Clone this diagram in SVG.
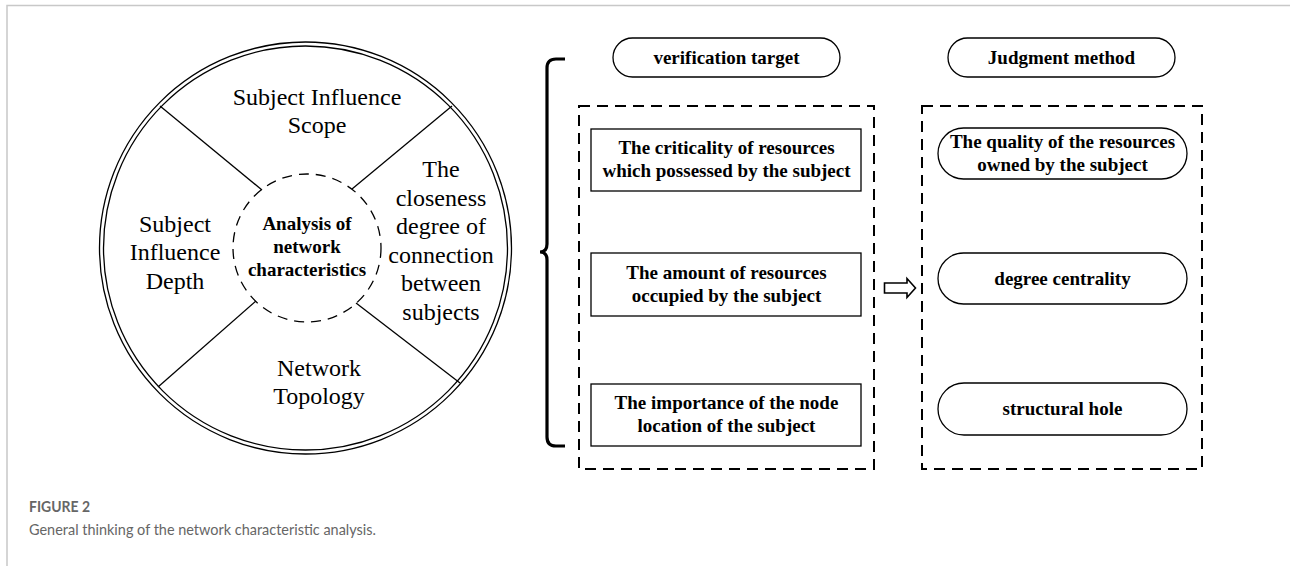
<svg xmlns="http://www.w3.org/2000/svg" width="1290" height="566" viewBox="0 0 1290 566">
<style>
.ser{font-family:"Liberation Serif","Times New Roman",serif;fill:#000;text-anchor:middle}
.reg{font-size:24px}
.bld{font-size:19px;font-weight:bold}
.ln{stroke:#000;stroke-width:1.3;fill:none}
.box{fill:#fff;stroke:#000;stroke-width:1.3}
.dash{fill:none;stroke:#000;stroke-width:2;stroke-dasharray:11 7}
.cap{font-family:Lato,"Open Sans","Liberation Sans",sans-serif;fill:#666}
</style>
<rect width="1290" height="566" fill="#fff"/>
<g id="frame">
<path d="M7 566 V5.5 H1290" fill="none" stroke="#c8c8c8" stroke-width="1.5"/>
</g>
<g id="circle-diagram">
<circle cx="305.5" cy="248" r="206" class="ln" stroke-width="1.6"/>
<circle cx="305.5" cy="248" r="202" class="ln" stroke-width="1.6"/>
<circle cx="307" cy="248" r="74" class="ln" stroke-width="1.6" stroke-dasharray="10 7"/>
</g>
<g id="connectors">
<line x1="160" y1="106" x2="262" y2="190" class="ln"/>
<line x1="452" y1="106" x2="352" y2="189" class="ln"/>
<line x1="158" y1="387" x2="256" y2="301" class="ln"/>
<line x1="460" y1="383" x2="356" y2="303" class="ln"/>
<path d="M565 59 H556 Q547 59 547 68 V244 Q547 252 540 252 Q547 252 547 260 V437 Q547 446 556 446 H565" fill="none" stroke="#000" stroke-width="3.2"/>
<path d="M884.5 283 H907 V278.5 L915.5 288 L907 297.5 V293 H884.5 Z" fill="#fff" stroke="#000" stroke-width="1.6"/>
</g>
<g id="scope">
<text class="ser reg" x="317" y="105">Subject Influence</text>
<text class="ser reg" x="317" y="133">Scope</text>
</g>
<g id="depth">
<text class="ser reg" x="175" y="232">Subject</text>
<text class="ser reg" x="175" y="260">Influence</text>
<text class="ser reg" x="175" y="289">Depth</text>
</g>
<g id="closeness">
<text class="ser reg" x="441" y="177">The</text>
<text class="ser reg" x="441" y="206">closeness</text>
<text class="ser reg" x="441" y="234">degree of</text>
<text class="ser reg" x="441" y="263">connection</text>
<text class="ser reg" x="441" y="291">between</text>
<text class="ser reg" x="441" y="320">subjects</text>
</g>
<g id="topology">
<text class="ser reg" x="319" y="376">Network</text>
<text class="ser reg" x="319" y="404">Topology</text>
</g>
<g id="center">
<text class="ser bld" x="307" y="230">Analysis of</text>
<text class="ser bld" x="307" y="253">network</text>
<text class="ser bld" x="307" y="276">characteristics</text>
</g>
<g id="verification-target">
<rect x="613" y="38" width="227" height="39" rx="19.5" class="box"/>
<text class="ser bld" x="726.5" y="64">verification target</text>
</g>
<g id="judgment-method">
<rect x="948" y="38" width="227" height="39" rx="19.5" class="box"/>
<text class="ser bld" x="1061.5" y="64">Judgment method</text>
</g>
<g id="left-group">
<rect x="579" y="106" width="295" height="363" class="dash"/>
</g>
<g id="right-group">
<rect x="922" y="106" width="280" height="363" class="dash"/>
</g>
<g id="criticality">
<rect x="591" y="129" width="270" height="62" class="box"/>
<text class="ser bld" x="726.5" y="154">The criticality of resources</text>
<text class="ser bld" x="726.5" y="177">which possessed by the subject</text>
</g>
<g id="amount">
<rect x="591" y="253" width="270" height="63" class="box"/>
<text class="ser bld" x="726.5" y="279">The amount of resources</text>
<text class="ser bld" x="726.5" y="302">occupied by the subject</text>
</g>
<g id="importance">
<rect x="591" y="384" width="270" height="62" class="box"/>
<text class="ser bld" x="726.5" y="409">The importance of the node</text>
<text class="ser bld" x="726.5" y="432">location of the subject</text>
</g>
<g id="quality">
<rect x="938" y="128" width="249" height="51" rx="25.5" class="box"/>
<text class="ser bld" x="1062.5" y="148">The quality of the resources</text>
<text class="ser bld" x="1062.5" y="171">owned by the subject</text>
</g>
<g id="degree-centrality">
<rect x="938" y="253" width="249" height="51" rx="25.5" class="box"/>
<text class="ser bld" x="1062.5" y="285">degree centrality</text>
</g>
<g id="structural-hole">
<rect x="938" y="383" width="249" height="52" rx="26" class="box"/>
<text class="ser bld" x="1062.5" y="415">structural hole</text>
</g>
<g id="caption">
<text class="cap" x="29" y="512" font-size="15" font-weight="bold" fill="#555" textLength="61" lengthAdjust="spacingAndGlyphs">FIGURE 2</text>
<text class="cap" x="29" y="535" font-size="16" textLength="347" lengthAdjust="spacingAndGlyphs">General thinking of the network characteristic analysis.</text>
</g>
</svg>
